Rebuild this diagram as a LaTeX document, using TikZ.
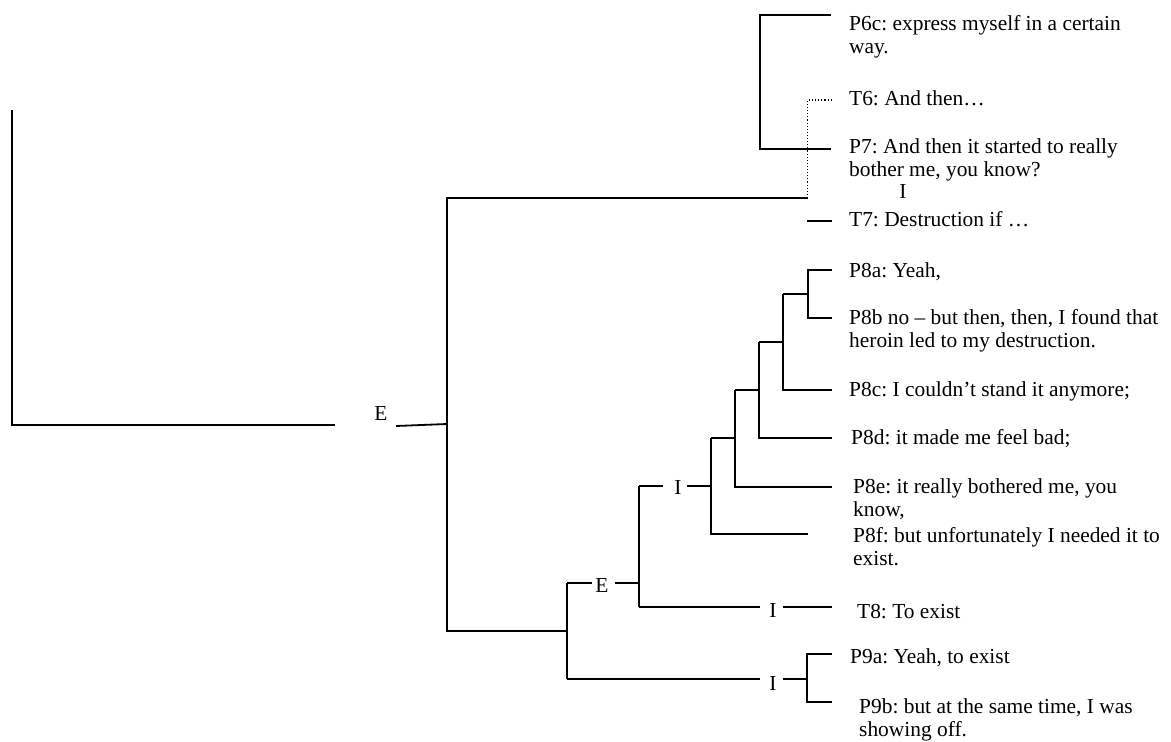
\documentclass[tikz,border=0pt]{standalone}
\usepackage{fontspec}
\setmainfont{Liberation Serif}
\frenchspacing
\tikzset{
  tree/.style={line width=1.8pt, black},
  dots/.style={line width=1.1pt, dotted, black},
  txt/.style={anchor=base west, inner sep=0pt, align=left, font=\fontsize{21.4}{23}\selectfont},
  lab/.style={anchor=base, inner sep=0pt, font=\fontsize{21.4}{23}\selectfont}
}
\begin{document}
\begin{tikzpicture}[x=1pt,y=-1pt]
\useasboundingbox (0,0) rectangle (1171,742);
% left open frame
\coordinate (L0) at (12,110);
\coordinate (L1) at (12,425);
\coordinate (L2) at (335,425);
\draw[tree] (L0) -- (L1) -- (L2);
\node[lab] (E1) at (381,420) {E};
\coordinate (E1r) at (396,426);
\coordinate (R0) at (447,424);
\draw[tree] (E1r) -- (R0);
% root bracket
\coordinate (Rt) at (447,198);
\coordinate (Rb) at (447,631);
\coordinate (Dt) at (807.7,198);
\coordinate (Sm) at (567,631);
\draw[tree] (Dt) -- (Rt) -- (Rb) -- (Sm);
% upper bracket P6c / P7
\coordinate (U0) at (831,15);
\coordinate (U1) at (760,15);
\coordinate (U2) at (760,149);
\coordinate (U3) at (831,149);
\draw[tree] (U0) -- (U1) -- (U2) -- (U3);
% dotted T6
\coordinate (D1) at (807.7,100);
\coordinate (D2) at (832,100);
\draw[dots] (Dt) -- (D1) -- (D2);
% T7 stub
\coordinate (T7a) at (807,221);
\coordinate (T7b) at (832,221);
\draw[tree] (T7a) -- (T7b);
% second-level bracket x=567
\coordinate (S0) at (567,583);
\coordinate (S1) at (567,679);
\draw[tree] (S0) -- (S1);
\coordinate (E2l) at (592,583);
\node[lab] (E2) at (602,592) {E};
\coordinate (E2r) at (615,583);
\coordinate (V0) at (639,583);
\draw[tree] (S0) -- (E2l);
\draw[tree] (E2r) -- (V0);
\coordinate (V1) at (639,486);
\coordinate (V2) at (639,607);
\draw[tree] (V1) -- (V2);
% I over P8 group
\coordinate (I1l) at (663,486);
\draw[tree] (V1) -- (I1l);
\node[lab] (I1) at (678,494) {I};
\coordinate (I1r) at (687,486);
\coordinate (W0) at (711,486);
\draw[tree] (I1r) -- (W0);
\coordinate (W1) at (711,438);
\coordinate (W2) at (711,534);
\coordinate (F8) at (808,534);
\draw[tree] (W1) -- (W2) -- (F8);
\coordinate (X1) at (735,438);
\coordinate (X0) at (735,390);
\coordinate (X2) at (735,487);
\coordinate (E8) at (832,487);
\draw[tree] (W1) -- (X1);
\draw[tree] (X0) -- (X2) -- (E8);
\coordinate (Y1) at (759,390);
\coordinate (Y0) at (759,342);
\coordinate (Y2) at (759,438);
\coordinate (D8) at (832,438);
\draw[tree] (X0) -- (Y1);
\draw[tree] (Y0) -- (Y2) -- (D8);
\coordinate (Z1) at (783,342);
\coordinate (Z0) at (783,294);
\coordinate (Z2) at (783,390);
\coordinate (C8) at (832,390);
\draw[tree] (Y0) -- (Z1);
\draw[tree] (Z0) -- (Z2) -- (C8);
\coordinate (Q1) at (808,294);
\coordinate (Q0) at (808,270);
\coordinate (Q2) at (808,318);
\coordinate (A8) at (832,270);
\coordinate (B8) at (832,318);
\draw[tree] (Z0) -- (Q1);
\draw[tree] (A8) -- (Q0) -- (Q2) -- (B8);
% T8 branch
\coordinate (T8l) at (760,607);
\draw[tree] (V2) -- (T8l);
\node[lab] (I2) at (773,617) {I};
\coordinate (T8r) at (783,607);
\coordinate (T8e) at (832,607);
\draw[tree] (T8r) -- (T8e);
% P9 branch
\coordinate (P9l) at (760,679);
\draw[tree] (S1) -- (P9l);
\node[lab] (I3) at (773,690) {I};
\coordinate (P9r) at (783,679);
\coordinate (P9m) at (807,679);
\draw[tree] (P9r) -- (P9m);
\coordinate (P9t) at (807,654);
\coordinate (P9b) at (807,702);
\coordinate (P9ae) at (832,654);
\coordinate (P9be) at (832,702);
\draw[tree] (P9ae) -- (P9t) -- (P9b) -- (P9be);
% texts (two-line nodes: y is the baseline of the last line)
\node[txt] (tP6c) at (849,53) {P6c: express myself in a certain\\way.};
\node[txt] (tT6) at (849,105) {T6: And then…};
\node[txt] (tP7) at (849,176) {P7: And then it started to really\\bother me, you know?};
\node[lab] (I0) at (903,198) {I};
\node[txt] (tT7) at (849,226) {T7: Destruction if …};
\node[txt] (tP8a) at (849,277) {P8a: Yeah,};
\node[txt] (tP8b) at (849,347) {P8b no – but then, then, I found that\\heroin led to my destruction.};
\node[txt] (tP8c) at (849,396) {P8c: I couldn’t stand it anymore;};
\node[txt] (tP8d) at (851,444) {P8d: it made me feel bad;};
\node[txt] (tP8e) at (853,516) {P8e: it really bothered me, you\\know,};
\node[txt] (tP8f) at (853,565) {P8f: but unfortunately I needed it to\\exist.};
\node[txt] (tT8) at (857,618) {T8: To exist};
\node[txt] (tP9a) at (850,663) {P9a: Yeah, to exist};
\node[txt] (tP9b) at (859,736) {P9b: but at the same time, I was\\showing off.};
\end{tikzpicture}
\end{document}
